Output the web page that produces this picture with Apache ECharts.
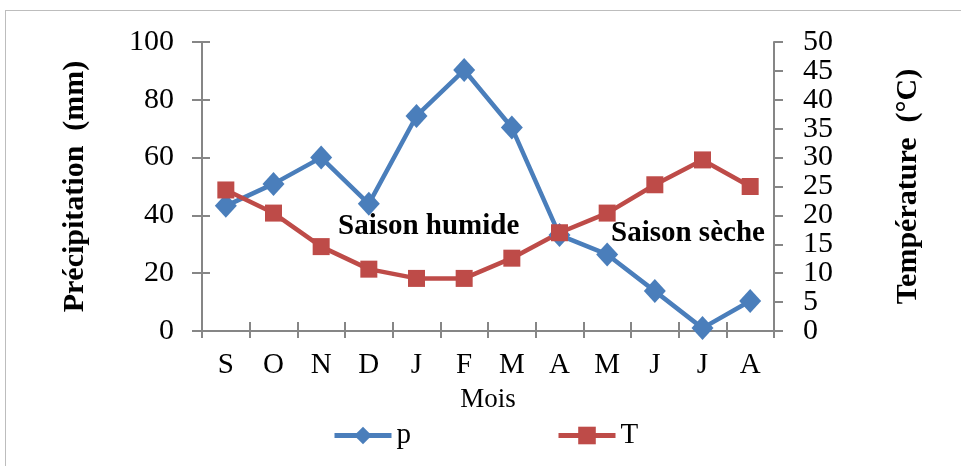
<!DOCTYPE html>
<html><head><meta charset="utf-8">
<script src="https://cdn.jsdelivr.net/npm/echarts@6/dist/echarts.min.js"></script>
<style>html,body{margin:0;padding:0;background:#fff}#c{width:961px;height:466px}
#frame{position:absolute;left:5px;top:10px;width:1000px;height:500px;border:1px solid #bdbdbd;pointer-events:none}</style>
</head><body><div id="c"></div><div id="frame"></div>
<script>
var months = ['S','O','N','D','J','F','M','A','M','J','J','A'];
var precip = [43.3, 50.9, 60, 44, 74.4, 90.3, 70.4, 33.2, 26.5, 13.8, 1, 10.4];
var temp = [24.4, 20.4, 14.6, 10.7, 9.1, 9.1, 12.6, 17, 20.4, 25.3, 29.6, 25];
var leftTicks = {min:0, max:100, interval:20};
var rightTicks = {min:0, max:50, interval:5};
var F = '"Liberation Serif", "Times New Roman", serif';
var axisCol = '#868686';
var G = {left:202, right:187, top:42, bottom:135};
var plotH = 466 - G.top - G.bottom;
var step = plotH * rightTicks.interval / (rightTicks.max - rightTicks.min);
var rightLabel = {fontFamily:F, fontSize:30, color:'#000', margin:29, showMinLabel:true, showMaxLabel:true};
var chart = echarts.init(document.getElementById('c'));
chart.setOption({
  animation:false,
  grid:[G, {left:G.left, right:G.right, top:G.top + step, bottom:G.bottom + step}],
  legend:{
    data:['p','T'], left:327, top:416, itemWidth:57, itemHeight:22, itemGap:145,
    lineStyle:{width:5},
    textStyle:{fontFamily:F, fontSize:29, color:'#000'}
  },
  xAxis:[{
    type:'category', data:months, boundaryGap:true, position:'bottom', gridIndex:0,
    name:'Mois', nameLocation:'middle', nameGap:55,
    nameTextStyle:{fontFamily:F, fontSize:27, color:'#000'},
    axisLine:{lineStyle:{color:axisCol, width:2}},
    axisTick:{show:true, inside:false, length:7, interval:0, lineStyle:{color:axisCol, width:2}},
    axisLabel:{fontFamily:F, fontSize:29, color:'#000', margin:20, interval:0}
  },{
    type:'category', data:months, boundaryGap:true, position:'bottom', gridIndex:0,
    axisLine:{show:false},
    axisTick:{show:true, inside:true, length:9, interval:0, lineStyle:{color:axisCol, width:2}},
    axisLabel:{show:false}
  },{
    type:'category', data:months, gridIndex:1, show:false
  }],
  yAxis:[{
    type:'value', gridIndex:0, min:leftTicks.min, max:leftTicks.max, interval:leftTicks.interval, position:'left',
    name:'Précipitation  (mm)', nameLocation:'middle', nameGap:112, nameRotate:90,
    nameTextStyle:{fontFamily:F, fontSize:30, fontWeight:'bold', color:'#000'},
    axisLine:{show:true, lineStyle:{color:axisCol, width:2}},
    axisTick:{show:true, length:10, lineStyle:{color:axisCol, width:2}},
    splitLine:{show:false},
    axisLabel:{fontFamily:F, fontSize:30, color:'#000', margin:28, showMinLabel:true, showMaxLabel:true}
  },{
    type:'value', gridIndex:0, min:rightTicks.min, max:rightTicks.max, interval:rightTicks.interval, position:'right',
    name:'Température  (°C)', nameLocation:'middle', nameGap:119, nameRotate:90,
    nameTextStyle:{fontFamily:F, fontSize:30, fontWeight:'bold', color:'#000'},
    axisLine:{show:true, lineStyle:{color:axisCol, width:2}},
    axisTick:{show:true, length:9, lineStyle:{color:axisCol, width:2}},
    splitLine:{show:false},
    axisLabel:{show:false}
  },{
    type:'value', gridIndex:0, min:leftTicks.min, max:leftTicks.max, interval:leftTicks.interval, position:'left',
    axisLine:{show:false},
    axisTick:{show:true, inside:true, length:8, lineStyle:{color:axisCol, width:2}},
    splitLine:{show:false},
    axisLabel:{show:false}
  },{
    type:'value', gridIndex:0, min:rightTicks.min, max:rightTicks.max, interval:rightTicks.interval*2, position:'right',
    axisLine:{show:false}, axisTick:{show:false}, splitLine:{show:false},
    axisLabel:rightLabel
  },{
    type:'value', gridIndex:1, min:rightTicks.min + rightTicks.interval, max:rightTicks.max - rightTicks.interval,
    interval:rightTicks.interval*2, position:'right',
    axisLine:{show:false}, axisTick:{show:false}, splitLine:{show:false},
    axisLabel:rightLabel
  }],
  series:[{
    name:'p', type:'line', xAxisIndex:0, yAxisIndex:0, data:precip,
    symbol:'diamond', symbolSize:[22,24],
    lineStyle:{color:'#4A7EBB', width:4.5}, itemStyle:{color:'#4A7EBB'}
  },{
    name:'T', type:'line', xAxisIndex:0, yAxisIndex:1, data:temp,
    symbol:'rect', symbolSize:[17,17],
    lineStyle:{color:'#BE4B48', width:4.5}, itemStyle:{color:'#BE4B48'}
  }],
  graphic:[
    {type:'text', left:338, top:212, style:{text:'Saison humide', font:'bold 29px '+F, fill:'#000'}},
    {type:'text', left:611, top:219, style:{text:'Saison sèche', font:'bold 29px '+F, fill:'#000'}}
  ]
});
</script></body></html>
